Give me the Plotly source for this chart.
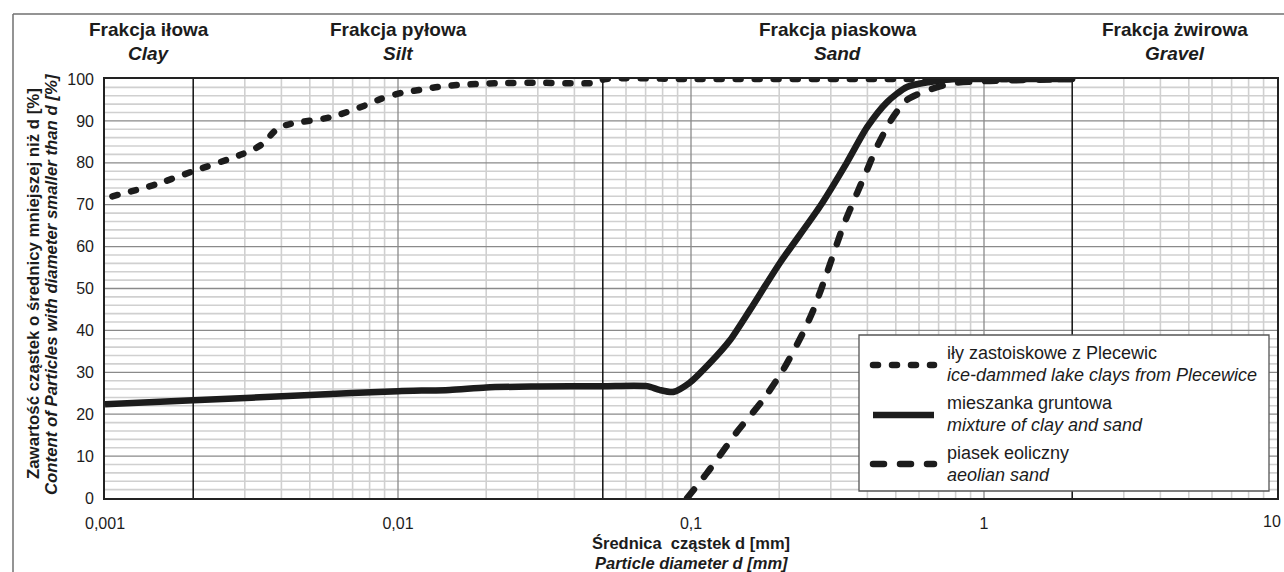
import numpy as np
import plotly.graph_objects as go

# ---------------- data ----------------
clay_x = [0.00106, 0.0015, 0.002, 0.0029, 0.0034, 0.0039, 0.0043, 0.0059, 0.0078, 0.0087,
          0.0103, 0.0119, 0.0137, 0.016, 0.0186, 0.0218, 0.03, 0.047, 0.051, 0.1, 0.5, 1.0, 2.0]
clay_y = [72.0, 74.9, 78.0, 81.9, 84.2, 88.3, 89.3, 90.9, 93.8, 95.2,
          96.7, 97.4, 98.1, 98.6, 98.8, 99.0, 99.1, 99.1, 100, 100, 100, 100, 100]

mix_x = [0.001, 0.002, 0.005, 0.01, 0.015, 0.02, 0.03, 0.05, 0.0708, 0.078, 0.0869, 0.0986,
         0.116, 0.136, 0.159, 0.201, 0.275, 0.34, 0.399, 0.467, 0.546, 0.654, 0.8, 1.0, 2.0]
mix_y = [22.4, 23.3, 24.6, 25.5, 25.8, 26.4, 26.6, 26.7, 26.7, 25.8, 25.3, 27.4,
         32.2, 37.7, 44.9, 56.1, 69.5, 80.0, 88.5, 94.5, 98.1, 99.3, 100, 100, 100]

sand_x = [0.097, 0.1135, 0.1436, 0.176, 0.206, 0.241, 0.262, 0.291, 0.33, 0.369, 0.399,
          0.431, 0.489, 0.546, 0.62, 0.783, 1.0, 2.0]
sand_y = [0.0, 6.0, 15.8, 23.4, 30.5, 39.4, 45.0, 53.7, 64.7, 72.8, 78.3,
          83.8, 90.9, 95.0, 96.9, 99.0, 99.5, 100]

series_names = ["iły zastoiskowe z Plecewic", "mieszanka gruntowa", "piasek eoliczny"]
series_names_en = ["ice-dammed lake clays from Plecewice", "mixture of clay and sand", "aeolian sand"]

fraction_bounds = [0.001, 0.002, 0.05, 2.0, 10.0]
fraction_pl = ["Frakcja iłowa", "Frakcja pyłowa", "Frakcja piaskowa", "Frakcja żwirowa"]
fraction_en = ["Clay", "Silt", "Sand", "Gravel"]

x_tickvals = [0.001, 0.01, 0.1, 1, 10]
x_ticktext = ["0,001", "0,01", "0,1", "1", "10"]
y_tickvals = list(range(0, 101, 10))

y_title_pl = "Zawartość cząstek o średnicy mniejszej niż d [%]"
y_title_en = "Content of Particles with diameter smaller than d [%]"
x_title_pl = "Średnica&nbsp; cząstek d [mm]"
x_title_en = "Particle diameter d [mm]"

# ---------------- style ----------------
W, H = 1284, 572
ML, MR, MT, MB = 105, 7, 79, 74
PW, PH = W - ML - MR, H - MT - MB
INK = "#1c1c1c"
FONT = "Liberation Sans, Arial, sans-serif"
LW = 6.5
DOT = "5px,14px"
DASH = "11px,16px"
MAJOR = "#8a8a8a"
MINOR = "#d0d0d0"


def px_x(p):
    return (p - ML) / PW


def px_y(p):
    return (H - MB - p) / PH


def lx(v):  # paper coordinate of a value on the log axis
    return (np.log10(v) + 3) / 4.0


fig = go.Figure()
fig.add_trace(go.Scatter(x=clay_x, y=clay_y, mode="lines", name=series_names[0],
                         line=dict(color=INK, width=LW, dash=DOT, shape="spline", smoothing=0.7)))
fig.add_trace(go.Scatter(x=mix_x, y=mix_y, mode="lines", name=series_names[1],
                         line=dict(color=INK, width=LW, shape="spline", smoothing=0.7)))
fig.add_trace(go.Scatter(x=sand_x, y=sand_y, mode="lines", name=series_names[2],
                         line=dict(color=INK, width=LW, dash=DASH, shape="spline", smoothing=0.7)))

shapes = []
# horizontal gridlines (minor every 2 %, major every 10 %)
for v in range(2, 100, 2):
    if v % 10:
        shapes.append(dict(type="line", xref="paper", yref="y", x0=0, x1=1, y0=v, y1=v,
                           line=dict(color=MINOR, width=1.6), layer="below"))
# minor vertical gridlines
for dec in [0.001, 0.01, 0.1, 1]:
    for m in range(2, 10):
        v = dec * m
        if v in fraction_bounds:
            continue
        shapes.append(dict(type="line", xref="paper", yref="paper", x0=lx(v), x1=lx(v), y0=0, y1=1,
                           line=dict(color=MINOR, width=1.6), layer="below"))
for v in range(10, 100, 10):
    shapes.append(dict(type="line", xref="paper", yref="y", x0=0, x1=1, y0=v, y1=v,
                       line=dict(color=MAJOR, width=1.3), layer="below"))
for v in x_tickvals[1:-1]:
    shapes.append(dict(type="line", xref="paper", yref="paper", x0=lx(v), x1=lx(v), y0=0, y1=1,
                       line=dict(color=MAJOR, width=1.3), layer="below"))
# fraction boundaries (black)
for v in fraction_bounds[1:-1]:
    shapes.append(dict(type="line", xref="paper", yref="paper", x0=lx(v), x1=lx(v), y0=0, y1=1,
                       line=dict(color="#111111", width=1.5), layer="below"))
# outer frame (top + left)
shapes.append(dict(type="line", xref="paper", yref="paper", x0=px_x(13), x1=px_x(1290),
                   y0=px_y(14), y1=px_y(14), line=dict(color="#707070", width=1.5), layer="below"))
shapes.append(dict(type="line", xref="paper", yref="paper", x0=px_x(13), x1=px_x(13),
                   y0=px_y(14), y1=px_y(580), line=dict(color="#707070", width=1.5), layer="below"))
# legend box
shapes.append(dict(type="rect", xref="paper", yref="paper", x0=px_x(859), x1=px_x(1269),
                   y0=px_y(491), y1=px_y(335), fillcolor="white",
                   line=dict(color="#555555", width=1.3), layer="below"))
# legend samples
for yy, dsh in [(365, DOT), (415, "solid"), (464, DASH)]:
    shapes.append(dict(type="line", xref="paper", yref="paper", x0=px_x(873), x1=px_x(934),
                       y0=px_y(yy), y1=px_y(yy), line=dict(color=INK, width=LW, dash=dsh),
                       layer="below"))

ann = []
# fraction headers
for i in range(4):
    a, b = fraction_bounds[i], fraction_bounds[i + 1]
    xc = lx(np.sqrt(a * b))
    ann.append(dict(x=xc, y=px_y(30), xref="paper", yref="paper", text="<b>%s</b>" % fraction_pl[i],
                    showarrow=False, xanchor="center", yanchor="middle",
                    font=dict(family=FONT, size=19, color=INK)))
    ann.append(dict(x=xc, y=px_y(54), xref="paper", yref="paper", text="<b><i>%s</i></b>" % fraction_en[i],
                    showarrow=False, xanchor="center", yanchor="middle",
                    font=dict(family=FONT, size=19, color=INK)))
# legend texts
for i, (y1, y2) in enumerate([(353, 375), (403, 425), (453, 475)]):
    ann.append(dict(x=px_x(945), y=px_y(y1), xref="paper", yref="paper", text=series_names[i],
                    showarrow=False, xanchor="left", yanchor="middle",
                    font=dict(family=FONT, size=18, color=INK)))
    ann.append(dict(x=px_x(945), y=px_y(y2), xref="paper", yref="paper", text="<i>%s</i>" % series_names_en[i],
                    showarrow=False, xanchor="left", yanchor="middle",
                    font=dict(family=FONT, size=18, color=INK)))
# last x tick label, kept just inside the page edge
ann.append(dict(x=px_x(1283), y=px_y(521), xref="paper", yref="paper", text=x_ticktext[-1],
                showarrow=False, xanchor="right", yanchor="middle",
                font=dict(family=FONT, size=16, color=INK)))
# axis titles
ann.append(dict(x=0.5, y=px_y(543), xref="paper", yref="paper", text="<b>%s</b>" % x_title_pl,
                showarrow=False, xanchor="center", yanchor="middle",
                font=dict(family=FONT, size=16.5, color=INK)))
ann.append(dict(x=0.5, y=px_y(563), xref="paper", yref="paper", text="<b><i>%s</i></b>" % x_title_en,
                showarrow=False, xanchor="center", yanchor="middle",
                font=dict(family=FONT, size=16.5, color=INK)))
ann.append(dict(x=px_x(33), y=px_y(284), xref="paper", yref="paper", text="<b>%s</b>" % y_title_pl,
                showarrow=False, xanchor="center", yanchor="middle", textangle=-90,
                font=dict(family=FONT, size=16.8, color=INK)))
ann.append(dict(x=px_x(51), y=px_y(284), xref="paper", yref="paper", text="<b><i>%s</i></b>" % y_title_en,
                showarrow=False, xanchor="center", yanchor="middle", textangle=-90,
                font=dict(family=FONT, size=16.8, color=INK)))

fig.update_layout(
    width=W, height=H, autosize=False,
    margin=dict(l=ML, r=MR, t=MT, b=MB, pad=0, autoexpand=False),
    paper_bgcolor="white", plot_bgcolor="white",
    showlegend=False,
    shapes=shapes, annotations=ann,
    font=dict(family=FONT, color=INK),
)
fig.update_xaxes(type="log", range=[-3, 1], tickvals=x_tickvals, ticktext=x_ticktext,
                 showgrid=False, automargin=False,
                 showline=True, linecolor="#222222", linewidth=1.6, mirror=True,
                 ticks="outside", ticklen=10, tickcolor="rgba(0,0,0,0)",
                 tickfont=dict(family=FONT, size=16, color=INK), zeroline=False)
fig.update_yaxes(range=[0, 100], tickvals=y_tickvals, showgrid=False, automargin=False,
                 showline=True, linecolor="#222222", linewidth=1.6, mirror=True,
                 ticks="outside", ticklen=6, tickcolor="rgba(0,0,0,0)",
                 tickfont=dict(family=FONT, size=16, color=INK), zeroline=False)

post = """
function rc(){
  document.querySelectorAll('.main-svg path').forEach(function(p){
    var d = p.style.strokeDasharray;
    if (d && d !== 'none' && d !== '') { p.style.strokeLinecap = 'round'; }
  });
  document.querySelectorAll('.js-line').forEach(function(p){ p.style.strokeLinejoin='round'; });
}
rc();
var gd = document.getElementsByClassName('plotly-graph-div')[0];
if (gd && gd.on) { gd.on('plotly_afterplot', rc); }
"""
fig.write_html("out.html", post_script=post, config={"displayModeBar": False})
